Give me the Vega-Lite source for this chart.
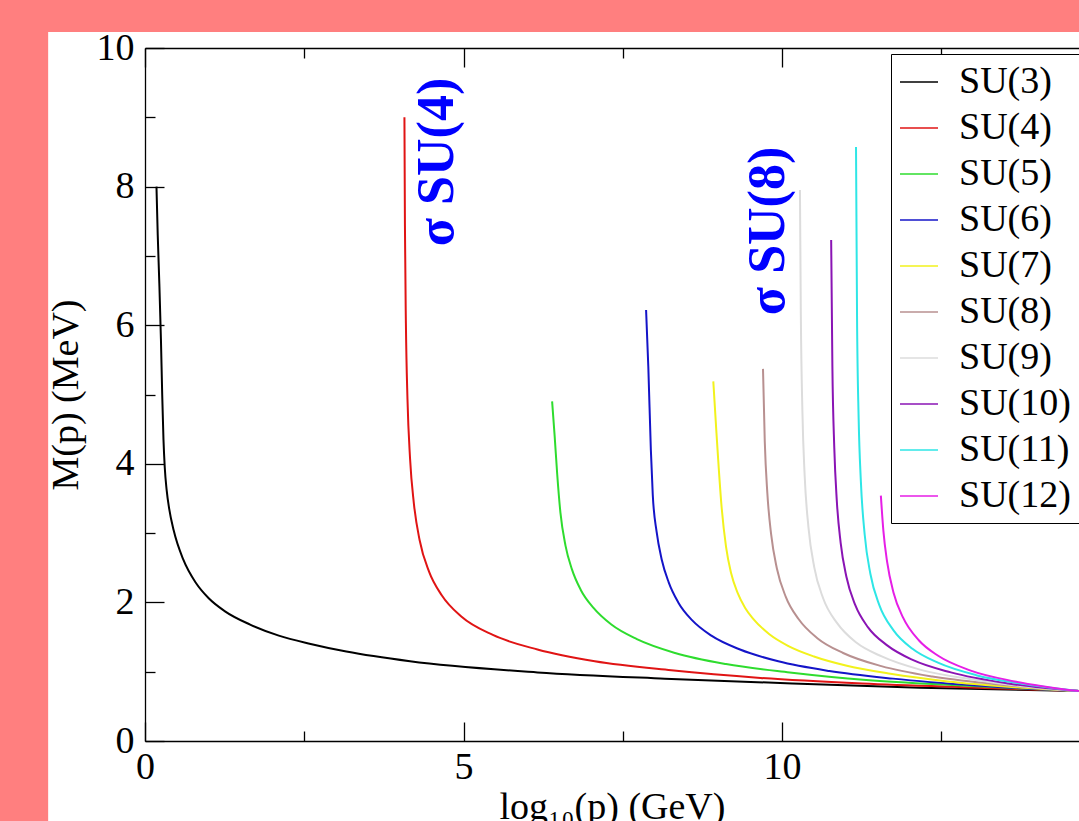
{
  "$schema": "https://vega.github.io/schema/vega-lite/v6.json",
  "width": 934,
  "height": 693,
  "autosize": {"type": "none"},
  "padding": {"left": 145, "top": 48, "right": 0, "bottom": 80},
  "background": "#FF7F7F",
  "config": {"view": {"stroke": null}, "font": "Liberation Serif"},
  "datasets": {
    "curves": [
      {"group": "SU(3)", "x": 0.18, "M": 8.0}, {"group": "SU(3)", "x": 0.20, "M": 7.3}, {"group": "SU(3)", "x": 0.225, "M": 6.6}, {"group": "SU(3)", "x": 0.25, "M": 5.8}, {"group": "SU(3)", "x": 0.27, "M": 5.0}, {"group": "SU(3)", "x": 0.29, "M": 4.35}, {"group": "SU(3)", "x": 0.31, "M": 3.95}, {"group": "SU(3)", "x": 0.34, "M": 3.62}, {"group": "SU(3)", "x": 0.38, "M": 3.35}, {"group": "SU(3)", "x": 0.45, "M": 3.04}, {"group": "SU(3)", "x": 0.60, "M": 2.62}, {"group": "SU(3)", "x": 0.80, "M": 2.28}, {"group": "SU(3)", "x": 1.0, "M": 2.06}, {"group": "SU(3)", "x": 1.25, "M": 1.875}, {"group": "SU(3)", "x": 1.65, "M": 1.68}, {"group": "SU(3)", "x": 2.1, "M": 1.52}, {"group": "SU(3)", "x": 2.6, "M": 1.40}, {"group": "SU(3)", "x": 3.16, "M": 1.29}, {"group": "SU(3)", "x": 4.16, "M": 1.15}, {"group": "SU(3)", "x": 6.16, "M": 0.99}, {"group": "SU(3)", "x": 8.16, "M": 0.90}, {"group": "SU(3)", "x": 10.16, "M": 0.83}, {"group": "SU(3)", "x": 12.16, "M": 0.77}, {"group": "SU(3)", "x": 14.66, "M": 0.72},
      {"group": "SU(4)", "x": 4.072, "M": 9.0}, {"group": "SU(4)", "x": 4.08, "M": 7.43}, {"group": "SU(4)", "x": 4.095, "M": 6.03}, {"group": "SU(4)", "x": 4.12, "M": 4.93}, {"group": "SU(4)", "x": 4.16, "M": 4.08}, {"group": "SU(4)", "x": 4.22, "M": 3.43}, {"group": "SU(4)", "x": 4.31, "M": 2.90}, {"group": "SU(4)", "x": 4.46, "M": 2.44}, {"group": "SU(4)", "x": 4.66, "M": 2.10}, {"group": "SU(4)", "x": 4.96, "M": 1.80}, {"group": "SU(4)", "x": 5.46, "M": 1.53}, {"group": "SU(4)", "x": 6.16, "M": 1.32}, {"group": "SU(4)", "x": 7.06, "M": 1.15}, {"group": "SU(4)", "x": 8.26, "M": 1.02}, {"group": "SU(4)", "x": 9.66, "M": 0.91}, {"group": "SU(4)", "x": 11.26, "M": 0.83}, {"group": "SU(4)", "x": 13.06, "M": 0.77}, {"group": "SU(4)", "x": 14.66, "M": 0.72},
      {"group": "SU(5)", "x": 6.39, "M": 4.90}, {"group": "SU(5)", "x": 6.43, "M": 4.40}, {"group": "SU(5)", "x": 6.47, "M": 3.85}, {"group": "SU(5)", "x": 6.52, "M": 3.30}, {"group": "SU(5)", "x": 6.60, "M": 2.82}, {"group": "SU(5)", "x": 6.70, "M": 2.48}, {"group": "SU(5)", "x": 6.84, "M": 2.18}, {"group": "SU(5)", "x": 7.04, "M": 1.92}, {"group": "SU(5)", "x": 7.32, "M": 1.68}, {"group": "SU(5)", "x": 7.72, "M": 1.47}, {"group": "SU(5)", "x": 8.32, "M": 1.27}, {"group": "SU(5)", "x": 9.12, "M": 1.11}, {"group": "SU(5)", "x": 10.12, "M": 0.99}, {"group": "SU(5)", "x": 11.32, "M": 0.88}, {"group": "SU(5)", "x": 12.82, "M": 0.80}, {"group": "SU(5)", "x": 14.66, "M": 0.72},
      {"group": "SU(6)", "x": 7.865, "M": 6.22}, {"group": "SU(6)", "x": 7.90, "M": 5.40}, {"group": "SU(6)", "x": 7.94, "M": 4.20}, {"group": "SU(6)", "x": 7.97, "M": 3.55}, {"group": "SU(6)", "x": 8.03, "M": 3.02}, {"group": "SU(6)", "x": 8.11, "M": 2.62}, {"group": "SU(6)", "x": 8.22, "M": 2.29}, {"group": "SU(6)", "x": 8.37, "M": 2.00}, {"group": "SU(6)", "x": 8.59, "M": 1.74}, {"group": "SU(6)", "x": 8.89, "M": 1.52}, {"group": "SU(6)", "x": 9.34, "M": 1.32}, {"group": "SU(6)", "x": 9.94, "M": 1.15}, {"group": "SU(6)", "x": 10.74, "M": 1.01}, {"group": "SU(6)", "x": 11.74, "M": 0.90}, {"group": "SU(6)", "x": 13.04, "M": 0.80}, {"group": "SU(6)", "x": 14.66, "M": 0.72},
      {"group": "SU(7)", "x": 8.92, "M": 5.19}, {"group": "SU(7)", "x": 8.97, "M": 4.44}, {"group": "SU(7)", "x": 9.05, "M": 3.38}, {"group": "SU(7)", "x": 9.12, "M": 2.80}, {"group": "SU(7)", "x": 9.20, "M": 2.42}, {"group": "SU(7)", "x": 9.30, "M": 2.14}, {"group": "SU(7)", "x": 9.42, "M": 1.92}, {"group": "SU(7)", "x": 9.55, "M": 1.76}, {"group": "SU(7)", "x": 9.8, "M": 1.54}, {"group": "SU(7)", "x": 10.1, "M": 1.37}, {"group": "SU(7)", "x": 10.5, "M": 1.22}, {"group": "SU(7)", "x": 11.0, "M": 1.09}, {"group": "SU(7)", "x": 11.7, "M": 0.97}, {"group": "SU(7)", "x": 12.6, "M": 0.86}, {"group": "SU(7)", "x": 13.6, "M": 0.78}, {"group": "SU(7)", "x": 14.66, "M": 0.72},
      {"group": "SU(8)", "x": 9.70, "M": 5.37}, {"group": "SU(8)", "x": 9.728, "M": 4.32}, {"group": "SU(8)", "x": 9.768, "M": 3.58}, {"group": "SU(8)", "x": 9.828, "M": 2.98}, {"group": "SU(8)", "x": 9.918, "M": 2.49}, {"group": "SU(8)", "x": 10.058, "M": 2.08}, {"group": "SU(8)", "x": 10.258, "M": 1.76}, {"group": "SU(8)", "x": 10.558, "M": 1.48}, {"group": "SU(8)", "x": 10.958, "M": 1.27}, {"group": "SU(8)", "x": 11.558, "M": 1.08}, {"group": "SU(8)", "x": 12.358, "M": 0.93}, {"group": "SU(8)", "x": 13.358, "M": 0.82}, {"group": "SU(8)", "x": 14.66, "M": 0.72},
      {"group": "SU(9)", "x": 10.28, "M": 7.95}, {"group": "SU(9)", "x": 10.294, "M": 6.15}, {"group": "SU(9)", "x": 10.319, "M": 4.74}, {"group": "SU(9)", "x": 10.354, "M": 3.83}, {"group": "SU(9)", "x": 10.414, "M": 3.08}, {"group": "SU(9)", "x": 10.504, "M": 2.51}, {"group": "SU(9)", "x": 10.644, "M": 2.06}, {"group": "SU(9)", "x": 10.864, "M": 1.70}, {"group": "SU(9)", "x": 11.164, "M": 1.42}, {"group": "SU(9)", "x": 11.564, "M": 1.22}, {"group": "SU(9)", "x": 12.164, "M": 1.03}, {"group": "SU(9)", "x": 12.964, "M": 0.89}, {"group": "SU(9)", "x": 13.764, "M": 0.79}, {"group": "SU(9)", "x": 14.66, "M": 0.72},
      {"group": "SU(10)", "x": 10.77, "M": 7.23}, {"group": "SU(10)", "x": 10.789, "M": 5.41}, {"group": "SU(10)", "x": 10.819, "M": 4.23}, {"group": "SU(10)", "x": 10.859, "M": 3.46}, {"group": "SU(10)", "x": 10.919, "M": 2.86}, {"group": "SU(10)", "x": 11.009, "M": 2.37}, {"group": "SU(10)", "x": 11.149, "M": 1.96}, {"group": "SU(10)", "x": 11.349, "M": 1.64}, {"group": "SU(10)", "x": 11.649, "M": 1.38}, {"group": "SU(10)", "x": 12.049, "M": 1.17}, {"group": "SU(10)", "x": 12.649, "M": 0.99}, {"group": "SU(10)", "x": 13.549, "M": 0.83}, {"group": "SU(10)", "x": 14.66, "M": 0.72},
      {"group": "SU(11)", "x": 11.16, "M": 8.57}, {"group": "SU(11)", "x": 11.176, "M": 6.14}, {"group": "SU(11)", "x": 11.201, "M": 4.67}, {"group": "SU(11)", "x": 11.236, "M": 3.75}, {"group": "SU(11)", "x": 11.296, "M": 2.98}, {"group": "SU(11)", "x": 11.386, "M": 2.41}, {"group": "SU(11)", "x": 11.526, "M": 1.96}, {"group": "SU(11)", "x": 11.746, "M": 1.60}, {"group": "SU(11)", "x": 12.046, "M": 1.33}, {"group": "SU(11)", "x": 12.446, "M": 1.13}, {"group": "SU(11)", "x": 13.046, "M": 0.95}, {"group": "SU(11)", "x": 13.746, "M": 0.83}, {"group": "SU(11)", "x": 14.66, "M": 0.72},
      {"group": "SU(12)", "x": 11.55, "M": 3.54}, {"group": "SU(12)", "x": 11.589, "M": 3.04}, {"group": "SU(12)", "x": 11.649, "M": 2.58}, {"group": "SU(12)", "x": 11.749, "M": 2.14}, {"group": "SU(12)", "x": 11.899, "M": 1.78}, {"group": "SU(12)", "x": 12.149, "M": 1.45}, {"group": "SU(12)", "x": 12.449, "M": 1.23}, {"group": "SU(12)", "x": 12.949, "M": 1.02}, {"group": "SU(12)", "x": 13.649, "M": 0.86}, {"group": "SU(12)", "x": 14.66, "M": 0.72}
    ],
    "notes": [
      {"label": "σ SU(4)", "x": 4.584, "M": 8.355},
      {"label": "σ SU(8)", "x": 9.78, "M": 7.36}
    ]
  },
  "layer": [
    {
      "data": {"values": [{}]},
      "mark": {"type": "rect", "fill": "white", "clip": false},
      "encoding": {
        "x": {"datum": -1.52, "type": "quantitative", "scale": {"domain": [0, 14.66], "nice": false, "zero": false}, "axis": null},
        "x2": {"datum": 16},
        "y": {"datum": 10.23, "type": "quantitative", "scale": {"domain": [0, 10], "nice": false}, "axis": null},
        "y2": {"datum": -2}
      }
    },
    {
      "data": {"name": "curves"},
      "mark": {"type": "line", "strokeWidth": 2, "interpolate": "monotone"},
      "encoding": {
        "x": {
          "field": "x", "type": "quantitative",
          "scale": {"domain": [0, 14.66], "nice": false, "zero": false},
          "axis": {
            "orient": "bottom", "values": [0, 2.5, 5, 7.5, 10, 12.5],
            "labelExpr": "datum.value % 5 === 0 ? '' + datum.value : ''",
            "tickSize": {"condition": {"test": "datum.value % 5 === 0", "value": -19}, "value": -10},
            "labelPadding": 26, "labelFontSize": 38, "labelFont": "Liberation Serif", "labelColor": "black",
            "labelFlush": false, "labelOverlap": false, "labelBound": false,
            "domainColor": "black", "domainWidth": 1.3, "tickColor": "black", "tickWidth": 1.3, "grid": false,
            "title": "log₁₀(p) (GeV)", "titleFont": "Liberation Serif", "titleFontSize": 38, "titleFontWeight": "normal", "titleColor": "black", "titlePadding": -7,
            "zindex": 1
          }
        },
        "y": {
          "field": "M", "type": "quantitative",
          "scale": {"domain": [0, 10], "nice": false},
          "axis": {
            "orient": "left", "values": [0, 1, 2, 3, 4, 5, 6, 7, 8, 9, 10],
            "labelExpr": "datum.value % 2 === 0 ? '' + datum.value : ''",
            "tickSize": {"condition": {"test": "datum.value % 2 === 0", "value": -19}, "value": -10},
            "labelPadding": 30, "labelFontSize": 38, "labelFont": "Liberation Serif", "labelColor": "black",
            "labelFlush": false, "labelOverlap": false, "labelBound": false,
            "domainColor": "black", "domainWidth": 1.3, "tickColor": "black", "tickWidth": 1.3, "grid": false,
            "title": "M(p) (MeV)", "titleFont": "Liberation Serif", "titleFontSize": 38, "titleFontWeight": "normal", "titleColor": "black", "titlePadding": 11,
            "zindex": 1
          }
        },
        "color": {
          "field": "group", "type": "nominal",
          "scale": {
            "domain": ["SU(3)", "SU(4)", "SU(5)", "SU(6)", "SU(7)", "SU(8)", "SU(9)", "SU(10)", "SU(11)", "SU(12)"],
            "range": ["#000000", "#E01414", "#2EDC2E", "#1414C8", "#F2F21C", "#B89090", "#DCDCDC", "#8A14B4", "#2EE6E6", "#E61EE6"]
          },
          "legend": {
            "orient": "none", "legendX": 746, "legendY": 6, "title": null,
            "strokeColor": "black", "fillColor": "white", "padding": 8,
            "symbolType": "stroke", "symbolSize": 1444, "symbolStrokeWidth": 1.4,
            "labelFont": "Liberation Serif", "labelFontSize": 38, "labelColor": "black", "labelOffset": 20,
            "rowPadding": 7, "labelLimit": 300, "zindex": 2
          }
        }
      }
    },
    {
      "data": {"name": "notes"},
      "mark": {"type": "text", "angle": 270, "align": "center", "baseline": "middle", "font": "Liberation Serif", "fontWeight": "bold", "fontSize": 52, "color": "#0000FF"},
      "encoding": {
        "x": {
          "field": "x", "type": "quantitative",
          "scale": {"domain": [0, 14.66], "nice": false, "zero": false},
          "axis": {
            "orient": "top", "values": [0, 2.5, 5, 7.5, 10, 12.5], "labels": false, "title": null,
            "tickSize": {"condition": {"test": "datum.value % 5 === 0", "value": -19}, "value": -10},
            "domainColor": "black", "domainWidth": 1.3, "tickColor": "black", "tickWidth": 1.3, "grid": false, "zindex": 1
          }
        },
        "y": {"field": "M", "type": "quantitative", "scale": {"domain": [0, 10], "nice": false}, "axis": null},
        "text": {"field": "label"}
      }
    }
  ],
  "resolve": {"axis": {"x": "independent", "y": "independent"}}
}
